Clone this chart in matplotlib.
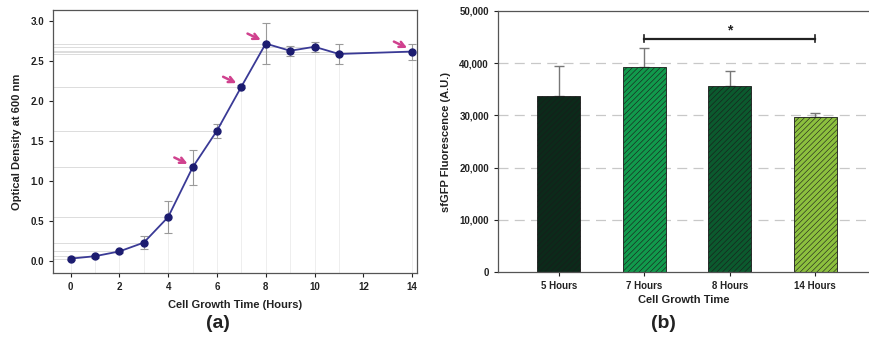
import numpy as np
import matplotlib.pyplot as plt

plt.rcParams['font.family'] = ['Liberation Sans', 'DejaVu Sans']
plt.rcParams['hatch.linewidth'] = 0.4

# panel (a): growth curve
hours = [0, 1, 2, 3, 4, 5, 6, 7, 8, 9, 10, 11, 14]
od600 = [0.03, 0.06, 0.12, 0.23, 0.55, 1.17, 1.63, 2.18, 2.72, 2.63, 2.68, 2.59, 2.62]
od_err = [0.02, 0.02, 0.02, 0.08, 0.20, 0.22, 0.09, 0.02, 0.26, 0.06, 0.06, 0.13, 0.10]
arrow_hours = [5, 7, 8, 14]

# panel (b): fluorescence bars
groups = ["5 Hours", "7 Hours", "8 Hours", "14 Hours"]
fluor = [33760, 39320, 35680, 29670]
fluor_err = [5690, 3650, 2750, 700]
bar_colors = ["#0c2a1a", "#119a4c", "#0b5a2e", "#8cc03e"]
sig_pair = (1, 3)
sig_y = 44700

fig = plt.figure(figsize=(8.69, 3.5), dpi=100)
ax1 = fig.add_axes([53 / 869, 1 - 273 / 350, 364 / 869, 263 / 350])
ax2 = fig.add_axes([498 / 869, 1 - 272 / 350, 371 / 869, 261 / 350])

# --- (a)
for x, y in zip(hours, od600):
    ax1.plot([-0.72, x], [y, y], color="#dcdcdc", lw=0.7, zorder=1)
    ax1.plot([x, x], [-0.15, y], color="#eeeeee", lw=0.7, zorder=1)
ax1.errorbar(hours, od600, yerr=od_err, fmt="none", ecolor="#9a9a9a",
             elinewidth=0.8, capsize=3, capthick=0.8, zorder=2)
ax1.plot(hours, od600, color="#3a3a96", lw=1.3, marker="o", ms=5,
         mfc="#1c1c70", mec="#1c1c70", zorder=3)
for h in arrow_hours:
    y = od600[hours.index(h)]
    ax1.annotate("", xy=(h - 0.1, y + 0.03), xytext=(h - 0.85, y + 0.14),
                 arrowprops=dict(arrowstyle="->", color="#d0418e", lw=1.8,
                                 mutation_scale=10), zorder=4)
ax1.set_xlim(-0.72, 14.2)
ax1.set_ylim(-0.15, 3.14)
ax1.set_xticks(range(0, 15, 2))
ax1.set_yticks(np.arange(0, 3.01, 0.5))
ax1.set_yticklabels([f"{v:.1f}" for v in np.arange(0, 3.01, 0.5)])
ax1.tick_params(labelsize=7, length=3, width=0.8, colors="#222222")
for lab in ax1.get_xticklabels() + ax1.get_yticklabels():
    lab.set_fontweight("bold")
for s in ax1.spines.values():
    s.set_color("#555555")
    s.set_linewidth(0.9)
ax1.set_xlabel("Cell Growth Time (Hours)", fontsize=8, fontweight="bold",
               color="#222222", labelpad=6)
ax1.set_ylabel("Optical Density at 600 nm", fontsize=8, fontweight="bold",
               color="#222222", labelpad=6)

# --- (b)
xpos = np.arange(len(groups))
for v in [10000, 20000, 30000, 40000]:
    ax2.axhline(v, color="#c8c8c8", lw=0.9, ls=(0, (8, 5)), zorder=0)
ax2.errorbar(xpos, fluor, yerr=[np.zeros(len(fluor)), fluor_err], fmt="none",
             ecolor="#777777", elinewidth=1.0, capsize=3.5, capthick=1.0, zorder=1)
ax2.bar(xpos, fluor, width=0.5, color=bar_colors, edgecolor="#1a1a1a",
        linewidth=0.6, hatch="//////", zorder=2)
x0, x1 = sig_pair
ax2.plot([x0, x1], [sig_y, sig_y], color="#222222", lw=1.6)
ax2.plot([x0, x0], [sig_y - 700, sig_y + 700], color="#222222", lw=1.2)
ax2.plot([x1, x1], [sig_y - 700, sig_y + 700], color="#222222", lw=1.2)
ax2.text((x0 + x1) / 2, sig_y + 300, "*", ha="center", va="bottom",
         fontsize=10, fontweight="bold", color="#222222")
ax2.set_xlim(-0.71, 3.63)
ax2.set_ylim(0, 50000)
ax2.set_xticks(xpos)
ax2.set_xticklabels(groups)
ax2.set_yticks(range(0, 50001, 10000))
ax2.set_yticklabels([f"{v:,}" for v in range(0, 50001, 10000)])
ax2.tick_params(labelsize=7, length=3, width=0.8, colors="#222222")
for lab in ax2.get_xticklabels() + ax2.get_yticklabels():
    lab.set_fontweight("bold")
ax2.spines["right"].set_visible(False)
for s in ["left", "top", "bottom"]:
    ax2.spines[s].set_color("#555555")
    ax2.spines[s].set_linewidth(0.9)
ax2.set_xlabel("Cell Growth Time", fontsize=8, fontweight="bold",
               color="#222222", labelpad=3)
ax2.set_ylabel("sfGFP Fluorescence (A.U.)", fontsize=8, fontweight="bold",
               color="#222222", labelpad=6)

fig.text(218 / 869, 1 - 323 / 350, "(a)", ha="center", va="center",
         fontsize=14, fontweight="bold", color="#222222")
fig.text(663 / 869, 1 - 323 / 350, "(b)", ha="center", va="center",
         fontsize=14, fontweight="bold", color="#222222")

fig.savefig("out.png", dpi=100)
